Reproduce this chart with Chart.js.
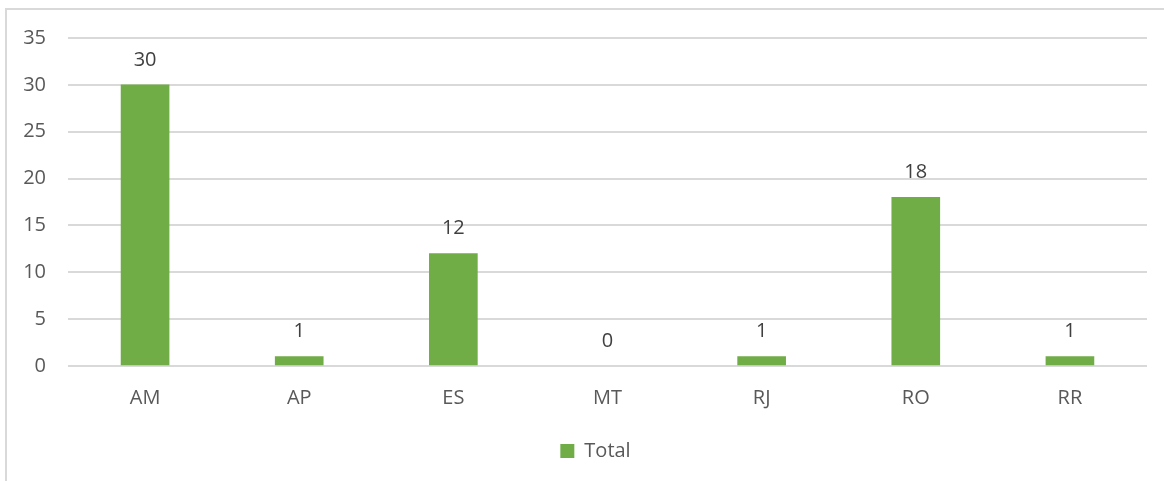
<!DOCTYPE html>
<html>
<head>
<meta charset="utf-8">
<script src="https://cdn.jsdelivr.net/npm/chart.js@4/dist/chart.umd.min.js"></script>
<style>
    html, body { margin: 0; padding: 0; background: #fff; }
    #wrap { position: relative; width: 1164px; height: 481px; overflow: hidden; }
    #frame { position: absolute; left: 5px; top: 8px; right: -4px; bottom: -4px; border: 2px solid #d9d9d9; }
    canvas { position: absolute; left: 0; top: 0; }
</style>
</head>
<body>
<div id="wrap">
    <div id="frame"></div>
    <canvas id="totalChart" width="1164" height="481"></canvas>
</div>
<script>
// categories and values
const states = ["AM", "AP", "ES", "MT", "RJ", "RO", "RR"];
const totals = [30, 1, 12, 0, 1, 18, 1];
const yTicks = [0, 5, 10, 15, 20, 25, 30, 35];

const textColor = '#595959';
const fontFamily = "'Open Sans', 'Liberation Sans', sans-serif";

// draws the value above each bar
const valueLabels = {
    id: 'valueLabels',
    afterDatasetsDraw(chart) {
        const ctx = chart.ctx;
        const meta = chart.getDatasetMeta(0);
        ctx.save();
        ctx.fillStyle = '#404040';
        ctx.font = "20px " + fontFamily;
        ctx.textAlign = 'center';
        ctx.textBaseline = 'middle';
        meta.data.forEach((bar, i) => {
            ctx.fillText(String(totals[i]), bar.x, bar.y - 25);
        });
        ctx.restore();
    }
};

// the legend in the original sits a bit right of centre
const legendShift = {
    id: 'legendShift',
    afterLayout(chart) {
        chart.legend.left += 22;
        chart.legend.right += 22;
    }
};

new Chart(document.getElementById('totalChart').getContext('2d'), {
    type: 'bar',
    data: {
        labels: states,
        datasets: [{
            label: 'Total',
            data: totals,
            // zero bars stay invisible, like the original
            backgroundColor: ctx => (ctx.raw === 0 ? 'rgba(0,0,0,0)' : '#70ad47'),
            borderWidth: 0,
            barThickness: 48
        }]
    },
    options: {
        responsive: false,
        animation: false,
        layout: { padding: { top: 38, right: 17, left: 0, bottom: 10 } },
        scales: {
            x: {
                grid: { display: false, drawTicks: false },
                border: { display: false },
                ticks: { color: textColor, font: { size: 20, family: fontFamily }, padding: 20 },
                afterFit(scale) { scale.height = 68; }
            },
            y: {
                min: 0,
                max: 35,
                afterBuildTicks(scale) { scale.ticks = yTicks.map(v => ({ value: v })); },
                grid: { color: '#d9d9d9', lineWidth: 2, drawTicks: false },
                border: { display: false },
                ticks: { color: textColor, font: { size: 20, family: fontFamily }, padding: 22 },
                afterFit(scale) { scale.width = 68; }
            }
        },
        plugins: {
            legend: {
                position: 'bottom',
                labels: {
                    color: textColor,
                    font: { size: 20, family: fontFamily },
                    boxWidth: 14,
                    boxHeight: 14,
                    padding: 7,
                    generateLabels(chart) {
                        return [{ text: 'Total', fillStyle: '#70ad47', strokeStyle: '#70ad47', lineWidth: 0, fontColor: textColor, datasetIndex: 0 }];
                    }
                }
            },
            tooltip: { enabled: false }
        }
    },
    plugins: [valueLabels, legendShift]
});
</script>
</body>
</html>
